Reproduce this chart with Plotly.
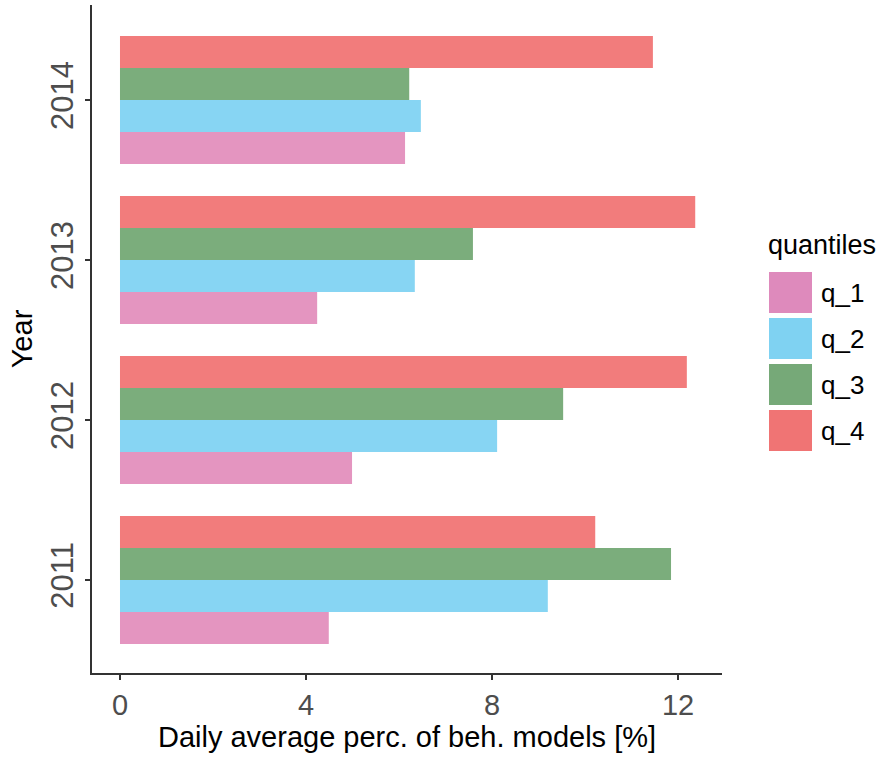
import plotly.graph_objects as go

years = ["2011", "2012", "2013", "2014"]
series_names = ["q_1", "q_2", "q_3", "q_4"]
q_1 = [4.49, 4.99, 4.24, 6.13]
q_2 = [9.20, 8.11, 6.34, 6.47]
q_3 = [11.85, 9.53, 7.59, 6.22]
q_4 = [10.22, 12.19, 12.37, 11.46]
values = [q_1, q_2, q_3, q_4]
colors = ["#E495C0", "#87D5F3", "#7BAD7C", "#F27C7C"]
legend_colors = ["#DE8ABC", "#7FD2F2", "#76A978", "#F07474"]
x_ticks = [0, 4, 8, 12]

W, H = 887, 760
L, R, T, B = 92, 722, 5, 673
FONT = "Liberation Sans, Arial"

def px(x):
    return (x - L) / (R - L)

def py(y):
    return (B - y) / (B - T)

fig = go.Figure()
for name, vals, col in zip(series_names, values, colors):
    fig.add_trace(go.Bar(
        y=years, x=vals, name=name, orientation="h",
        marker=dict(color=col, line=dict(width=0)),
        showlegend=False,
    ))

shapes = []
annotations = []
# custom legend
annotations.append(dict(text="quantiles", x=px(766), y=py(245), xref="paper", yref="paper",
                        xanchor="left", yanchor="middle", showarrow=False,
                        font=dict(family=FONT, size=27, color="#000000")))
for i, (name, col) in enumerate(zip(series_names, legend_colors)):
    top = 272 + i * 46
    shapes.append(dict(type="rect", xref="paper", yref="paper",
                       x0=px(769), x1=px(812), y0=py(top + 41), y1=py(top),
                       fillcolor=col, line=dict(width=0)))
    annotations.append(dict(text=name, x=px(819), y=py(top + 21), xref="paper", yref="paper",
                            xanchor="left", yanchor="middle", showarrow=False,
                            font=dict(family=FONT, size=26, color="#000000")))

fig.update_layout(
    width=W, height=H,
    margin=dict(l=L, r=W - R, t=T, b=H - B, pad=0),
    paper_bgcolor="white", plot_bgcolor="white",
    barmode="group", bargap=0.2, bargroupgap=0,
    font=dict(family=FONT, color="#000000"),
    shapes=shapes, annotations=annotations,
    showlegend=False,
    xaxis=dict(
        range=[-0.602, 12.946], tickvals=x_ticks, ticktext=[str(v) for v in x_ticks],
        showgrid=False, zeroline=False, showline=True, linecolor="#333333", linewidth=1.5,
        ticks="outside", ticklen=5, tickcolor="#333333", tickwidth=1.5,
        tickfont=dict(size=29, color="#4D4D4D"),
        title=dict(text="Daily average perc. of beh. models [%]", font=dict(size=29, color="#000000"), standoff=6),
    ),
    yaxis=dict(
        type="category", categoryorder="array", categoryarray=years,
        range=[-0.581, 3.594],
        showgrid=False, zeroline=False, showline=True, linecolor="#333333", linewidth=1.5,
        ticks="outside", ticklen=5, tickcolor="#333333", tickwidth=1.5,
        tickangle=-90, tickfont=dict(size=31, color="#4D4D4D"),
        title=dict(text="Year", font=dict(size=29, color="#000000"), standoff=4),
    ),
)

fig.write_html("out.html")
